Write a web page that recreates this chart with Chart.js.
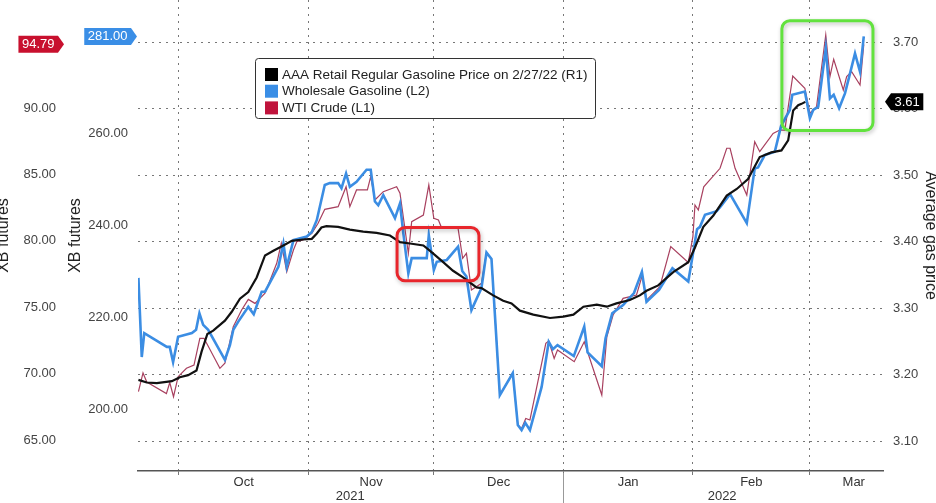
<!DOCTYPE html>
<html>
<head>
<meta charset="utf-8">
<script src="https://cdn.jsdelivr.net/npm/chart.js@4.4.1/dist/chart.umd.min.js"></script>
<style>
  html, body { margin: 0; padding: 0; background: #fff; }
  #wrap { width: 936px; height: 503px; }
</style>
</head>
<body>
<div id="wrap"><canvas id="chart" width="936" height="503"></canvas></div>
<script>
// x values are days counted from 1 Sep 2021 (1 Oct = 30, 1 Jan = 122, 1 Mar = 181)
const monthStarts = [30, 61, 91, 122, 153, 181];
const monthMids = [45.5, 76, 106.5, 137.5, 167, 191.5];
const monthLabels = ['Oct', 'Nov', 'Dec', 'Jan', 'Feb', 'Mar'];
const yearMids = [71, 160];
const yearLabels = ['2021', '2022'];

const wtiTicks = [65, 70, 75, 80, 85, 90, 95];
const xbTicks = [200, 220, 240, 260, 280];
const gasTicks = [3.1, 3.2, 3.3, 3.4, 3.5, 3.6, 3.7];

// AAA retail regular gasoline ($/gal, right axis)
const aaaDays = [20.3,22.3,24.7,28.3,30.2,32.2,34.2,35.4,36.8,38.2,41.0,42.6,44.6,46.6,48.6,50.6,52.6,55.0,57.0,59.7,
  61.8,63.0,64.1,65.3,68.1,70.9,74.1,77.3,80.5,82.9,85.3,88.5,90.1,92.9,95.6,98.0,101.2,102.4,105.2,107.6,
  109.6,111.6,114.8,118.8,122.0,124.4,126.8,130.0,132.4,134.7,137.9,140.3,141.9,144.7,148.3,151.9,153.5,155.5,157.9,161.1,
  163.5,166.2,169.0,171.8,174.2,175.8,177.0,178.2,179.0,179.9];
const aaaPrice = [3.192,3.188,3.187,3.190,3.196,3.199,3.206,3.234,3.261,3.266,3.281,3.294,3.314,3.324,3.346,3.379,3.386,3.394,3.401,3.403,
  3.404,3.412,3.421,3.423,3.422,3.418,3.415,3.413,3.409,3.399,3.397,3.394,3.386,3.371,3.356,3.346,3.331,3.330,3.319,3.311,
  3.307,3.296,3.290,3.285,3.287,3.290,3.302,3.305,3.302,3.307,3.312,3.319,3.326,3.334,3.354,3.369,3.391,3.422,3.439,3.469,
  3.479,3.494,3.527,3.534,3.537,3.552,3.597,3.605,3.607,3.610];

// wholesale gasoline, XB futures (cents, L2)
const xbDays = [20.3,21.1,21.7,27.1,27.8,28.6,29.8,33.1,34.1,34.9,35.8,37.0,41.0,42.2,43.0,44.2,46.6,47.9,49.8,50.6,
  53.8,55.0,55.8,57.4,60.6,61.8,63.0,64.9,66.1,68.1,68.9,70.0,70.9,72.5,74.9,75.9,76.9,77.7,78.9,81.7,
  82.9,83.7,84.9,85.7,89.3,89.8,91.0,91.7,94.1,96.8,97.8,98.8,100.0,102.4,103.6,104.8,106.8,109.9,111.1,112.0,
  112.9,114.0,116.8,118.5,119.5,120.6,124.5,127.0,127.8,131.2,132.1,133.7,136.3,138.9,140.8,141.9,144.9,148.1,151.9,152.9,
  154.0,154.7,155.9,158.7,159.7,161.9,165.9,167.8,168.6,170.2,172.6,174.1,176.2,176.8,179.8,181.0,181.8,183.0,184.8,185.8,
  186.7,188.0,189.4,190.4,191.8,193.0,193.9];
const xbPrice = [228.5,211.3,216.5,213.5,213.5,210.2,215.7,216.5,217.2,220.8,218.3,217.2,210.7,213.9,217.2,219.0,222.2,220.6,225.5,225.5,
  230.9,236.0,230.9,236.7,237.5,238.5,241.1,248.7,249.1,249.1,248.0,251.2,248.3,249.4,252.0,252.0,245.1,244.3,246.5,241.5,
  244.7,238.2,229.5,232.8,232.8,237.8,230.2,232.0,232.4,235.3,230.0,228.8,221.5,226.3,234.0,232.6,203.0,207.8,196.5,195.4,
  197.0,195.4,204.8,214.6,213.0,213.9,211.5,217.9,212.3,209.3,215.4,220.8,222.6,225.2,229.8,223.3,225.9,230.6,227.7,233.1,
  239.1,239.6,242.2,243.0,244.1,246.7,240.4,252.3,252.5,255.2,255.9,261.5,265.0,268.3,269.0,263.2,265.0,265.7,278.4,267.5,
  268.3,265.4,268.6,272.2,277.3,273.3,281.0];

// WTI crude ($/bbl, L1)
const wtiDays = [20.3,21.4,22.3,27.0,27.8,28.7,29.8,31.8,33.6,35.0,36.0,39.8,41.0,43.0,45.0,46.6,48.2,50.6,53.4,54.5,
  55.8,57.4,58.2,59.7,61.8,63.3,64.9,68.1,70.0,70.9,72.5,75.1,75.9,76.9,78.9,82.1,82.9,84.9,85.7,88.5,
  89.8,91.0,92.1,92.9,96.8,97.9,98.8,100.0,102.4,103.6,104.8,106.8,109.9,111.1,112.0,113.0,114.0,117.8,118.5,119.8,
  120.6,124.6,127.0,131.2,132.4,133.9,136.3,139.5,140.9,141.9,145.1,147.7,151.9,153.0,153.5,154.3,155.6,159.5,161.1,161.9,
  163.1,165.9,167.8,169.0,172.2,173.8,175.0,176.9,179.8,181.0,182.6,184.8,185.8,186.7,189.0,189.8,191.0,193.0,193.9];
const wtiPrice = [68.64,70.05,69.37,68.50,69.33,68.26,69.77,70.40,70.65,72.66,72.66,70.40,70.78,73.53,74.79,75.59,75.29,76.05,78.31,79.83,
  77.67,79.31,79.93,80.06,80.56,81.32,82.37,82.57,84.07,82.57,83.83,83.83,84.83,83.07,83.70,84.07,83.58,79.06,81.44,81.94,
  84.20,81.69,81.57,80.94,80.94,78.68,79.06,76.30,76.80,79.12,78.63,68.39,70.05,66.13,65.88,66.63,66.51,72.28,72.45,71.15,
  71.78,70.90,72.40,68.39,72.78,74.41,75.67,75.92,77.42,75.54,76.54,79.56,78.37,80.31,82.70,82.32,84.07,85.46,86.97,86.97,
  85.46,83.45,87.46,86.71,88.09,88.34,88.34,92.41,91.48,89.60,90.10,95.50,92.36,93.67,91.36,92.36,92.73,91.73,94.79];

// highlight boxes, in x days and right-axis price
const boxes = [
  { from: 82.2, to: 101.8, low: 3.341, high: 3.421, color: '#e8262c' },
  { from: 174.3, to: 196.1, low: 3.567, high: 3.732, color: '#62e23e' }
];

const FONT = 'Liberation Sans, Arial, sans-serif';
const toPoints = (xs, ys) => xs.map((x, i) => ({ x: x, y: ys[i] }));

function fixWidth(w) {
  return function (scale) {
    scale.width = w;
    scale.paddingTop = 0; scale.paddingBottom = 0;
  };
}

function roundRect(ctx, x, y, w, h, r) {
  ctx.beginPath();
  ctx.moveTo(x + r, y);
  ctx.arcTo(x + w, y, x + w, y + h, r);
  ctx.arcTo(x + w, y + h, x, y + h, r);
  ctx.arcTo(x, y + h, x, y, r);
  ctx.arcTo(x, y, x + w, y, r);
  ctx.closePath();
}

function drawTag(ctx, text, tipX, y, bg, pointLeft) {
  ctx.font = '13px ' + FONT;
  const w = ctx.measureText(text).width + 7;
  const h = 17, arrow = 6;
  ctx.fillStyle = bg;
  ctx.beginPath();
  if (pointLeft) {
    ctx.moveTo(tipX, y);
    ctx.lineTo(tipX + arrow, y - h / 2);
    ctx.lineTo(tipX + arrow + w, y - h / 2);
    ctx.lineTo(tipX + arrow + w, y + h / 2);
    ctx.lineTo(tipX + arrow, y + h / 2);
  } else {
    ctx.moveTo(tipX, y);
    ctx.lineTo(tipX - arrow, y - h / 2);
    ctx.lineTo(tipX - arrow - w, y - h / 2);
    ctx.lineTo(tipX - arrow - w, y + h / 2);
    ctx.lineTo(tipX - arrow, y + h / 2);
  }
  ctx.closePath();
  ctx.fill();
  ctx.fillStyle = '#fff';
  ctx.textAlign = 'center';
  ctx.textBaseline = 'middle';
  const cx = pointLeft ? tipX + arrow + w / 2 : tipX - arrow - w / 2;
  ctx.fillText(text, cx, y + 0.5);
}

const overlay = {
  id: 'overlay',
  afterDraw(chart) {
    const ctx = chart.ctx;
    const s = chart.scales;
    const area = chart.chartArea;
    ctx.save();

    // year separator below the axis
    const jan = Math.round(s.x.getPixelForValue(monthStarts[3])) + 0.5;
    ctx.strokeStyle = '#999';
    ctx.lineWidth = 1;
    ctx.beginPath();
    ctx.moveTo(jan, area.bottom + 2);
    ctx.lineTo(jan, chart.height);
    ctx.stroke();

    // highlight boxes
    boxes.forEach(b => {
      const x1 = s.x.getPixelForValue(b.from), x2 = s.x.getPixelForValue(b.to);
      const y1 = s.yGas.getPixelForValue(b.high), y2 = s.yGas.getPixelForValue(b.low);
      ctx.save();
      ctx.shadowColor = 'rgba(0,0,0,0.25)';
      ctx.shadowBlur = 4;
      ctx.shadowOffsetX = 1;
      ctx.shadowOffsetY = 2;
      ctx.strokeStyle = b.color;
      ctx.lineWidth = 3;
      roundRect(ctx, x1, y1, x2 - x1, y2 - y1, 8);
      ctx.stroke();
      ctx.restore();
    });

    // legend
    const lx = 255, ly = 58, lw = 340, lh = 60;
    ctx.fillStyle = '#fff';
    ctx.strokeStyle = '#333';
    ctx.lineWidth = 1;
    roundRect(ctx, lx + 0.5, ly + 0.5, lw, lh, 3);
    ctx.fill();
    ctx.stroke();
    ctx.font = '13.5px ' + FONT;
    ctx.textAlign = 'left';
    ctx.textBaseline = 'middle';
    chart.data.datasets.forEach((ds, i) => {
      const ry = ly + 10 + i * 16.7;
      ctx.fillStyle = ds.swatch;
      ctx.fillRect(lx + 10, ry, 13, 13);
      ctx.fillStyle = '#222';
      ctx.fillText(ds.label, lx + 27, ry + 7);
    });

    // last value tags
    const last = a => a[a.length - 1];
    drawTag(ctx, last(wtiPrice).toFixed(2), s.yWti.right + 2, s.yWti.getPixelForValue(last(wtiPrice)), '#c8102e', false);
    drawTag(ctx, last(xbPrice).toFixed(2), s.yXb.right - 1, s.yXb.getPixelForValue(last(xbPrice)), '#3a8ee6', false);
    drawTag(ctx, last(aaaPrice).toFixed(2), s.yGas.left + 2, s.yGas.getPixelForValue(last(aaaPrice)), '#000', true);

    ctx.restore();
  }
};

const xTicks = [];
monthStarts.forEach(v => xTicks.push({ value: v, label: '' }));
monthMids.forEach((v, i) => xTicks.push({ value: v, label: monthLabels[i] }));
yearMids.forEach((v, i) => xTicks.push({ value: v, label: ['', yearLabels[i]] }));
xTicks.sort((a, b) => a.value - b.value);

const isMonthStart = ctx => ctx.tick && monthStarts.includes(ctx.tick.value);

new Chart(document.getElementById('chart'), {
  type: 'line',
  data: {
    datasets: [
      { label: 'AAA Retail Regular Gasoline Price on 2/27/22 (R1)', data: toPoints(aaaDays, aaaPrice),
        yAxisID: 'yGas', borderColor: '#111', borderWidth: 2.2, order: 0, swatch: '#000' },
      { label: 'Wholesale Gasoline (L2)', data: toPoints(xbDays, xbPrice),
        yAxisID: 'yXb', borderColor: '#3b8de3', borderWidth: 2.6, order: 1, swatch: '#3a8ee6' },
      { label: 'WTI Crude (L1)', data: toPoints(wtiDays, wtiPrice),
        yAxisID: 'yWti', borderColor: '#a8405f', borderWidth: 1.2, order: 2, swatch: '#c0143c' }
    ]
  },
  options: {
    responsive: false,
    animation: false,
    layout: { padding: 0 },
    elements: { point: { radius: 0 }, line: { tension: 0 } },
    plugins: { legend: { display: false }, tooltip: { enabled: false } },
    scales: {
      x: {
        type: 'linear', min: 20.2, max: 198.5,
        afterBuildTicks: scale => { scale.ticks = xTicks.map(t => ({ value: t.value })); },
        afterFit: scale => { scale.height = 32; scale.paddingLeft = 0; scale.paddingRight = 0; },
        ticks: {
          autoSkip: false, maxRotation: 0, padding: 0,
          color: '#333', font: { family: FONT, size: 13, lineHeight: 1.1 },
          callback: (v, i) => xTicks[i].label
        },
        grid: {
          color: c => isMonthStart(c) ? '#777' : 'rgba(0,0,0,0)',
          tickColor: c => isMonthStart(c) ? '#777' : 'rgba(0,0,0,0)',
          tickLength: 4, lineWidth: 1
        },
        border: { display: true, color: '#555', width: 1.5, dash: [2, 5] }
      },
      yWti: {
        position: 'left', weight: 2, min: 62.67, max: 98.13,
        afterBuildTicks: scale => { scale.ticks = wtiTicks.map(v => ({ value: v })); },
        afterFit: fixWidth(62),
        ticks: { padding: 6, color: '#444', font: { family: FONT, size: 13 }, callback: v => v.toFixed(2) },
        grid: { display: false, drawTicks: false },
        border: { display: false },
        title: { display: true, text: 'XB futures', color: '#222', font: { family: FONT, size: 16 }, padding: { top: -6, bottom: 0 } }
      },
      yXb: {
        position: 'left', weight: 1, min: 186.52, max: 288.91,
        afterBuildTicks: scale => { scale.ticks = xbTicks.map(v => ({ value: v })); },
        afterFit: fixWidth(76),
        ticks: { padding: 10, color: '#444', font: { family: FONT, size: 13 }, callback: v => v.toFixed(2) },
        grid: { display: false, drawTicks: false },
        border: { display: false },
        title: { display: true, text: 'XB futures', color: '#222', font: { family: FONT, size: 16 }, padding: { top: 4, bottom: 0 } }
      },
      yGas: {
        position: 'right', min: 3.0549, max: 3.7632,
        afterBuildTicks: scale => { scale.ticks = gasTicks.map(v => ({ value: v })); },
        afterFit: fixWidth(53),
        ticks: { padding: 10, color: '#444', font: { family: FONT, size: 13 }, callback: v => v.toFixed(2) },
        grid: { color: '#777', lineWidth: 1, drawTicks: false },
        border: { display: false, dash: [2, 5] },
        title: { display: true, text: 'Average gas price', color: '#222', font: { family: FONT, size: 16 }, padding: { top: -4, bottom: 0 } }
      }
    }
  },
  plugins: [overlay]
});
</script>
</body>
</html>
